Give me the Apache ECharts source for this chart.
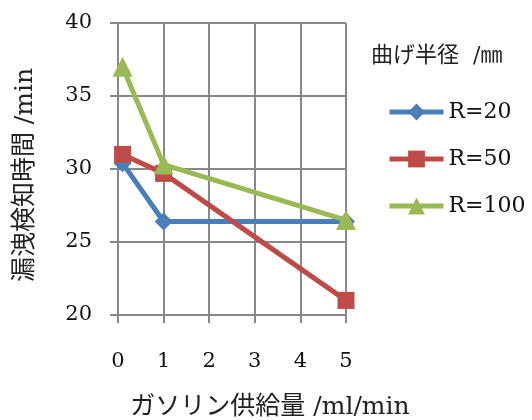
<!DOCTYPE html>
<html><head><meta charset="utf-8">
<script src="https://cdn.jsdelivr.net/npm/echarts@6/dist/echarts.min.js"></script>
<style>html,body{margin:0;padding:0;background:#fff}#c{width:532px;height:420px}</style>
</head><body><div id="c"></div>
<script>
const xValues = [0.1, 1, 5];
const seriesNames = ['R=20', 'R=50', 'R=100'];
const r20 = [30.4, 26.4, 26.4];
const r50 = [31.0, 29.7, 21.0];
const r100 = [37.0, 30.3, 26.5];
const xTicks = [0, 1, 2, 3, 4, 5];
const yTicks = [20, 25, 30, 35, 40];
const legendTitle = '曲げ半径  /㎜';
const xTitle = 'ガソリン供給量 /ml/min';
const yTitle = '漏洩検知時間 /min';

const FONT = '"DejaVu Serif", "Noto Sans CJK JP", serif';
const colors = ['#4A7EBB', '#BE4B48', '#98B954'];
const symbols = ['diamond', 'rect', 'triangle'];
const sizes = [18, 17, 20];
const vals = [r20, r50, r100];

const chart = echarts.init(document.getElementById('c'), null, {renderer: 'canvas'});
chart.setOption({
  animation: false,
  backgroundColor: '#fff',
  grid: {left: 118, right: 186, top: 23, bottom: 105, containLabel: false, outerBoundsMode: 'none'},
  title: {text: legendTitle, left: 371, top: 45, padding: 0,
    textStyle: {fontFamily: FONT, fontSize: 22, fontWeight: 'normal', color: '#222'}},
  legend: {
    orient: 'vertical', left: 387, top: 101, padding: 0,
    itemWidth: 54, itemHeight: 21, itemGap: 25,
    lineStyle: {width: 5},
    textStyle: {fontFamily: FONT, fontSize: 22, color: '#111'},
    data: seriesNames
  },
  xAxis: {
    type: 'value', min: xTicks[0], max: xTicks[xTicks.length - 1], interval: 1,
    name: xTitle, nameLocation: 'middle', nameGap: 80,
    nameTextStyle: {fontFamily: FONT, fontSize: 25, color: '#222', padding: [0, 0, 0, 76]},
    axisLine: {show: false},
    axisTick: {show: true, length: 8, lineStyle: {color: '#888', width: 2}},
    splitLine: {show: true, lineStyle: {color: '#888', width: 2}},
    axisLabel: {fontFamily: FONT, fontSize: 21, color: '#111', margin: 36}
  },
  yAxis: {
    type: 'value', min: yTicks[0], max: yTicks[yTicks.length - 1], interval: 5,
    name: yTitle, nameLocation: 'middle', nameGap: 80, nameRotate: 90,
    nameTextStyle: {fontFamily: FONT, fontSize: 25, color: '#222', padding: [0, 12, 0, 0]},
    axisLine: {show: false},
    axisTick: {show: true, length: 8, lineStyle: {color: '#888', width: 2}},
    splitLine: {show: true, lineStyle: {color: '#888', width: 2}},
    axisLabel: {fontFamily: FONT, fontSize: 21, color: '#111', margin: 26}
  },
  series: seriesNames.map((n, i) => ({
    name: n, type: 'line',
    data: xValues.map((x, j) => [x, vals[i][j]]),
    symbol: symbols[i], symbolSize: sizes[i],
    lineStyle: {color: colors[i], width: 5},
    itemStyle: {color: colors[i]},
    z: 2 + i
  }))
});
</script></body></html>
